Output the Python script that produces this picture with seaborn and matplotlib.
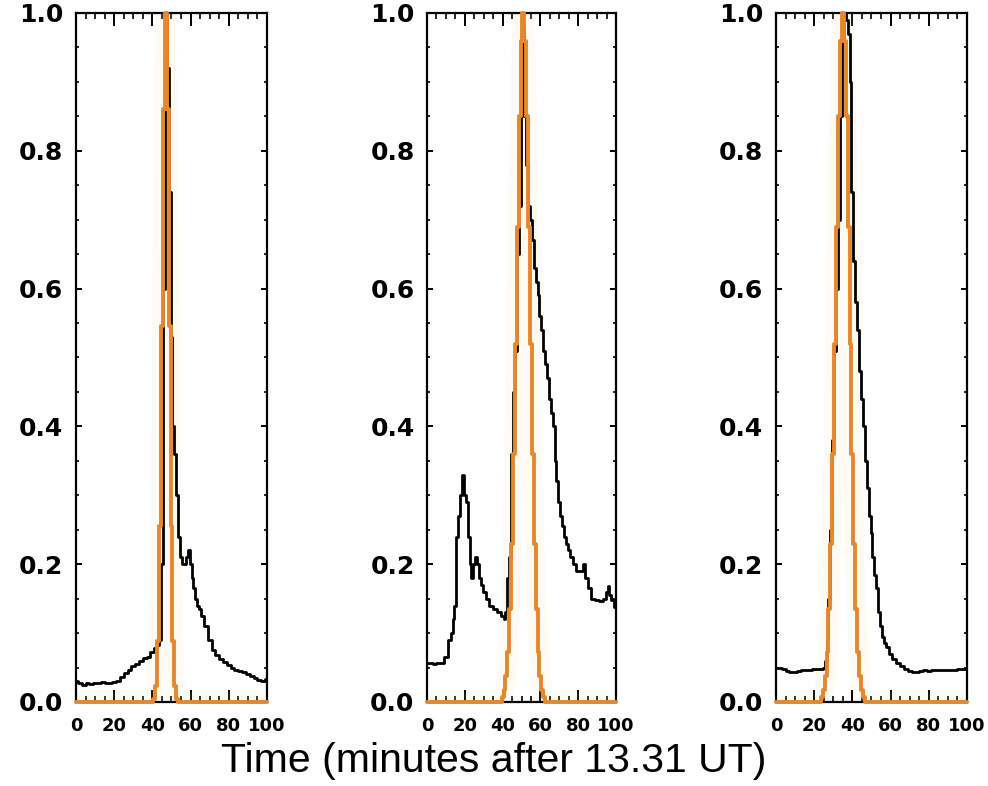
import numpy as np
import pandas as pd
import matplotlib
matplotlib.use("Agg")
import matplotlib.pyplot as plt
from matplotlib.ticker import MultipleLocator
import seaborn as sns

# ---- panel 1 ----
p1_time = [0, 2, 4, 6, 8, 10, 12, 14, 16, 18, 20, 22, 24, 26, 28, 30, 32, 34, 36, 38,
           40, 42, 43, 44, 45, 46, 47, 48, 49, 50, 51, 52, 53, 54, 55, 56, 57, 58, 59,
           60, 61, 62, 63, 64, 65, 66, 68, 70, 72, 74, 76, 78, 80, 82, 84, 86, 88, 90,
           92, 94, 96, 98, 100]
p1_flux = [0.030, 0.028, 0.025, 0.027, 0.026, 0.028, 0.027, 0.029, 0.028, 0.028,
           0.029, 0.030, 0.036, 0.042, 0.047, 0.052, 0.055, 0.060, 0.064, 0.066,
           0.072, 0.078, 0.082, 0.090, 0.20, 0.60, 1.00, 0.92, 0.74, 0.53, 0.40,
           0.36, 0.30, 0.24, 0.21, 0.20, 0.20, 0.21, 0.22, 0.20, 0.18, 0.165, 0.15,
           0.14, 0.135, 0.125, 0.11, 0.09, 0.075, 0.068, 0.062, 0.058, 0.054, 0.050,
           0.047, 0.045, 0.043, 0.041, 0.038, 0.035, 0.032, 0.030, 0.033]
p1_fit_time = [0, 40, 41, 42, 43, 44, 45, 46, 47, 48, 49, 50, 51, 52, 53, 54, 100]
p1_fit = [0, 0, 0.004, 0.023, 0.089, 0.256, 0.545, 0.86, 1.0, 0.86, 0.545, 0.256,
          0.089, 0.023, 0.004, 0, 0]

# ---- panel 2 ----
p2_time = [0, 2, 4, 6, 8, 10, 12, 13, 14, 15, 16, 17, 18, 19, 20, 21, 22, 23, 24,
           25, 26, 27, 28, 29, 30, 32, 34, 36, 38, 40, 41, 42, 43, 44, 45, 46, 47,
           48, 49, 50, 51, 52, 53, 54, 55, 56, 57, 58, 59, 60, 61, 62, 63, 64, 65,
           66, 67, 68, 69, 70, 71, 72, 73, 74, 75, 76, 78, 80, 82, 83, 84, 86, 88,
           90, 92, 94, 95, 96, 97, 98, 100]
p2_flux = [0.056, 0.056, 0.055, 0.056, 0.057, 0.065, 0.09, 0.10, 0.12, 0.14, 0.24,
           0.27, 0.30, 0.33, 0.30, 0.29, 0.24, 0.20, 0.18, 0.20, 0.21, 0.20, 0.18,
           0.17, 0.16, 0.15, 0.14, 0.135, 0.13, 0.125, 0.12, 0.13, 0.18, 0.21, 0.36,
           0.45, 0.51, 0.65, 0.72, 0.85, 0.98, 0.85, 0.78, 0.72, 0.70, 0.67, 0.63,
           0.61, 0.59, 0.56, 0.54, 0.51, 0.49, 0.47, 0.44, 0.42, 0.40, 0.35, 0.32,
           0.29, 0.27, 0.255, 0.24, 0.23, 0.22, 0.21, 0.20, 0.19, 0.19, 0.20, 0.18,
           0.165, 0.15, 0.148, 0.147, 0.15, 0.16, 0.168, 0.155, 0.148, 0.138]
p2_fit_time = [0, 39, 40, 41, 42, 43, 44, 45, 46, 47, 48, 49, 50, 51, 52, 53, 54,
               55, 56, 57, 58, 59, 60, 61, 62, 63, 100]
p2_fit = [0, 0, 0.007, 0.017, 0.037, 0.073, 0.135, 0.23, 0.36, 0.52, 0.69, 0.85,
          0.96, 1.0, 0.96, 0.85, 0.69, 0.52, 0.36, 0.23, 0.135, 0.073, 0.037, 0.017,
          0.007, 0, 0]

# ---- panel 3 ----
p3_time = [0, 2, 4, 6, 8, 10, 12, 14, 16, 18, 20, 22, 24, 25, 26, 27, 28, 29, 30,
           31, 32, 33, 34, 35, 36, 37, 38, 39, 40, 41, 42, 43, 44, 45, 46, 47, 48,
           49, 50, 51, 52, 53, 54, 55, 56, 57, 58, 60, 62, 64, 66, 68, 70, 72, 74,
           76, 78, 80, 82, 84, 86, 88, 90, 92, 94, 96, 98, 100]
p3_flux = [0.050, 0.049, 0.048, 0.045, 0.044, 0.044, 0.045, 0.046, 0.047, 0.047,
           0.048, 0.048, 0.048, 0.050, 0.060, 0.09, 0.15, 0.25, 0.38, 0.51, 0.60,
           0.70, 0.85, 0.96, 1.00, 0.99, 0.97, 0.90, 0.74, 0.64, 0.58, 0.54, 0.48,
           0.44, 0.40, 0.35, 0.31, 0.27, 0.245, 0.21, 0.185, 0.165, 0.13, 0.11,
           0.095, 0.085, 0.080, 0.070, 0.063, 0.057, 0.052, 0.048, 0.045, 0.044,
           0.043, 0.045, 0.046, 0.045, 0.046, 0.047, 0.046, 0.046, 0.047, 0.047,
           0.047, 0.048, 0.048, 0.048]
p3_fit_time = [0, 23, 24, 25, 26, 27, 28, 29, 30, 31, 32, 33, 34, 35, 36, 37, 38,
               39, 40, 41, 42, 43, 44, 45, 46, 47, 100]
p3_fit = [0, 0, 0.007, 0.017, 0.037, 0.073, 0.135, 0.23, 0.36, 0.52, 0.69, 0.85,
          0.96, 1.0, 0.96, 0.85, 0.69, 0.52, 0.36, 0.23, 0.135, 0.073, 0.037, 0.017,
          0.007, 0, 0]

y_ticks = [0.0, 0.2, 0.4, 0.6, 0.8, 1.0]
x_ticks = [0, 20, 40, 60, 80, 100]
xlabel = "Time (minutes after 13.31 UT)"

panels = [(p1_time, p1_flux, p1_fit_time, p1_fit),
          (p2_time, p2_flux, p2_fit_time, p2_fit),
          (p3_time, p3_flux, p3_fit_time, p3_fit)]

sns.set_style("white")
plt.rcParams['font.family'] = ['DejaVu Sans']
plt.rcParams['text.color'] = 'black'
plt.rcParams['xtick.color'] = 'black'
plt.rcParams['ytick.color'] = 'black'

fig = plt.figure(figsize=(9.88, 7.86), dpi=100)
lefts = [0.0769, 0.4322, 0.7854]
widths = [0.1933, 0.1913, 0.1933]

orange = "#E6872E"

for left, width, (t, f, ft, fv) in zip(lefts, widths, panels):
    ax = fig.add_axes([left, 0.1069, width, 0.8766])
    obs = pd.DataFrame({"time": t, "flux": f})
    fit = pd.DataFrame({"time": ft, "flux": fv})

    sns.lineplot(data=obs, x="time", y="flux", ax=ax, color="black", lw=2.0,
                 drawstyle="steps-mid", zorder=2)
    # soft glow around the fitted profile
    sns.lineplot(data=fit, x="time", y="flux", ax=ax, color="#FFD28C", lw=14,
                 alpha=0.10, zorder=1.5)
    sns.lineplot(data=fit, x="time", y="flux", ax=ax, color=orange, lw=2.8,
                 drawstyle="steps-mid", zorder=3, clip_on=False)

    ax.set_xlim(0, 100)
    ax.set_ylim(0, 1.0)
    ax.set_xticks(x_ticks)
    ax.set_yticks(y_ticks)
    ax.set_yticklabels([f"{v:.1f}" for v in y_ticks], fontsize=18, fontweight="bold")
    ax.set_xticklabels([str(v) for v in x_ticks], fontsize=13, fontweight="bold")
    ax.xaxis.set_minor_locator(MultipleLocator(5))
    ax.yaxis.set_minor_locator(MultipleLocator(0.05))
    ax.tick_params(axis="x", which="major", direction="in", length=9, width=1.4,
                   top=True, bottom=True, pad=11)
    ax.tick_params(axis="x", which="minor", direction="in", length=4, width=1.2,
                   top=True, bottom=True)
    ax.tick_params(axis="y", which="major", direction="in", length=4, width=1.4,
                   left=True, right=True, pad=9)
    ax.tick_params(axis="y", which="minor", direction="in", length=2.5, width=1.2,
                   left=True, right=True)
    for sp in ax.spines.values():
        sp.set_color("black")
        sp.set_linewidth(1.6)
    ax.set_xlabel("")
    ax.set_ylabel("")

fig.text(0.5, 0.032, xlabel, ha="center", va="center", fontsize=29.5,
         color="black", family=["Liberation Sans", "DejaVu Sans"])

fig.savefig("out.png", dpi=100)
